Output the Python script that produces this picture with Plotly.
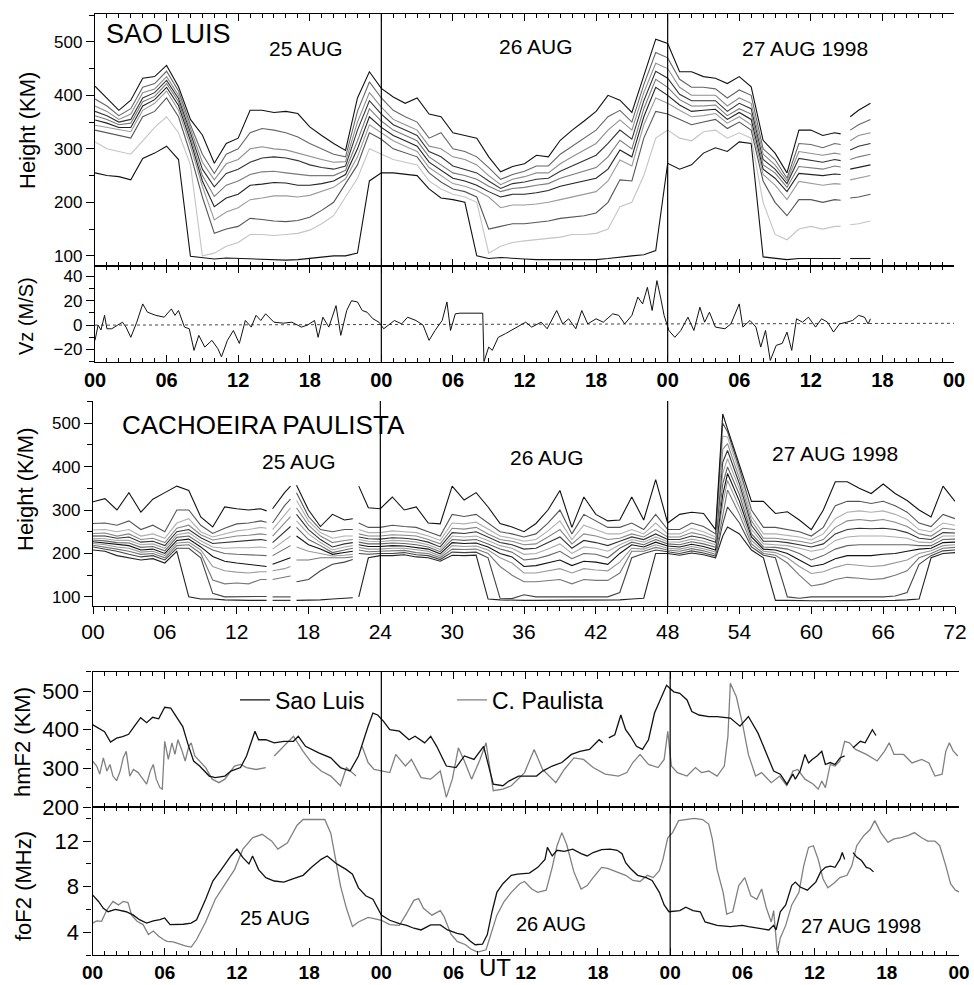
import plotly.graph_objects as go

W, H = 974, 985
FONT = "Liberation Sans, Arial, Helvetica, sans-serif"

# ---------------- Sao Luis iso-frequency heights (km) ----------------
SL_T = list(range(0, 63)) + [62.5, 62.9, 63.3, 64, 65]

SL_L9 = [417, 395, 372, 391, 432, 435, 456, 416, 355, 326,
         273, 310, 320, 372, 372, 368, 370, 366, 341, 325,
         310, 297, 395, 444, 413, 397, 385, 395, 365, 360,
         330, 325, 320, 285, 257, 267, 272, 288, 285, 316,
         335, 352, 370, 400, 391, 368, 435, 505, 497, 444,
         444, 435, 432, 422, 435, 416, 316, 292, 255, 335,
         335, 325, 330, 328, None, 360, 372, 385]
SL_L8 = [393, 380, 362, 375, 415, 422, 445, 408, 345, 290,
         254, 290, 300, 330, 338, 335, 330, 322, 310, 300,
         290, 285, 370, 425, 395, 372, 360, 350, 320, 330,
         300, 295, 285, 265, 243, 252, 258, 268, 268, 290,
         305, 320, 335, 360, 372, 350, 420, 480, 470, 430,
         415, 415, 412, 395, 410, 400, 300, 280, 245, 310,
         308, 302, 310, 308, None, 335, 345, 355]
SL_L7 = [380, 370, 355, 365, 405, 412, 435, 400, 338, 275,
         242, 272, 280, 300, 304, 300, 298, 292, 285, 280,
         275, 276, 350, 405, 378, 355, 345, 335, 305, 300,
         285, 280, 270, 250, 233, 243, 248, 255, 255, 272,
         285, 298, 310, 335, 354, 335, 405, 460, 450, 415,
         400, 400, 400, 380, 395, 385, 290, 270, 240, 295,
         292, 288, 292, 290, None, 315, 325, 330]
SL_L6 = [370, 362, 350, 355, 395, 405, 428, 394, 330, 262,
         229, 254, 262, 275, 283, 285, 283, 278, 270, 265,
         262, 268, 335, 390, 365, 345, 335, 325, 295, 285,
         268, 262, 255, 240, 226, 235, 238, 243, 245, 258,
         268, 278, 288, 310, 335, 318, 390, 445, 432, 402,
         390, 390, 390, 370, 385, 375, 280, 262, 235, 282,
         278, 275, 280, 278, None, 298, 305, 310]
SL_L5 = [362, 355, 345, 348, 388, 398, 422, 388, 322, 250,
         211, 232, 240, 252, 257, 258, 255, 252, 250, 250,
         250, 260, 315, 375, 352, 335, 325, 315, 285, 270,
         255, 250, 243, 230, 220, 226, 228, 232, 235, 245,
         252, 258, 265, 285, 316, 300, 375, 430, 415, 392,
         380, 380, 382, 362, 375, 365, 270, 255, 228, 267,
         265, 262, 268, 266, None, 280, 285, 290]
SL_L4 = [354, 348, 340, 340, 380, 392, 415, 381, 315, 240,
         192, 208, 215, 232, 234, 237, 236, 232, 232, 235,
         240, 252, 300, 360, 340, 325, 315, 305, 275, 260,
         245, 240, 232, 220, 210, 215, 215, 218, 222, 230,
         235, 240, 245, 262, 298, 285, 360, 415, 400, 382,
         370, 372, 374, 355, 368, 355, 262, 245, 220, 254,
         252, 250, 253, 252, None, 262, 265, 270]
SL_L3 = [344, 340, 335, 332, 372, 385, 408, 372, 305, 230,
         167, 182, 190, 205, 208, 212, 212, 210, 213, 220,
         228, 244, 285, 345, 330, 315, 305, 295, 265, 250,
         235, 230, 222, 210, 190, 195, 195, 197, 200, 205,
         210, 215, 220, 240, 279, 268, 345, 395, 385, 372,
         360, 362, 366, 348, 360, 345, 252, 232, 205, 239,
         235, 232, 235, 234, None, 242, 245, 250]
SL_L2 = [335, 330, 325, 320, 360, 370, 395, 360, 290, 210,
         142, 150, 155, 170, 168, 165, 164, 166, 172, 185,
         200, 235, 270, 330, 318, 300, 292, 285, 255, 238,
         225, 220, 210, 150, 155, 160, 160, 162, 165, 170,
         172, 175, 180, 200, 242, 240, 320, 370, 365, 355,
         345, 350, 355, 338, 350, 335, 240, 200, 175, 205,
         205, 200, 205, 204, None, 208, 210, 215]
SL_L1 = [313, 300, 295, 290, 315, 340, 360, 330, 270, 100,
         105, 118, 125, 140, 140, 138, 140, 142, 148, 160,
         175, 210, 245, 300, 290, 280, 275, 270, 240, 225,
         215, 210, 200, 105, 118, 125, 128, 130, 132, 135,
         140, 140, 142, 150, 192, 200, 250, 320, 335, 320,
         315, 332, 335, 320, 330, 320, 200, 140, 130, 150,
         155, 150, 155, 155, None, 158, 160, 165]
SL_L0 = [255, 250, 248, 242, 282, 292, 305, 280, 99, 96,
         94, 96, 95, 95, 93, 92, 92, 93, 95, 98,
         100, 100, 105, 240, 255, 255, 252, 250, 225, 208,
         205, 200, 100, 95, 97, 95, 94, 93, 93, 93,
         92, 92, 93, 95, 98, 100, 102, 110, 273, 262,
         270, 292, 302, 295, 313, 310, 98, 95, 93, 95,
         95, 95, 95, 95, None, 95, 95, 95]
SL_LINES = [SL_L0, SL_L1, SL_L2, SL_L3, SL_L4, SL_L5, SL_L6, SL_L7, SL_L8, SL_L9]
SL_COLORS = ["#111111", "#c4c4c4", "#555555", "#9a9a9a", "#222222",
             "#7a7a7a", "#333333", "#8e8e8e", "#666666", "#111111"]

# ---------------- Cachoeira Paulista iso-frequency heights (km) ----------------
CP_T = (list(range(0, 15)) + [14.5, 14.7, 15, 16, 16.5, 16.7, 17, 18, 19, 20, 21, 21.7, 21.95, 22.2]
        + list(range(23, 53)) + [52.6] + list(range(53, 73)))

CP_C11 = [319, 326, 300, 340, 295, 325, 340, 355, 345, 284, 261, 307, 303, 300, 303,
          298, None, 303, 340, 355, None, 357, 300, 262, 290, 277, 280, None, 355,
          305, 303, 330, 300, 307, 270, 268, 355, 323, 340,
          307, 269, 261, 250, 269, 300, 345, 260, 330, 290,
          275, 277, 330, 277, 370, 270, 290, 295, 292, 255,
          521,
          487, 405, 320, 320, 292, 296, 277, 255, 300, 365,
          365, 350, 338, 360, 338, 322, 300, 284, 355, 320]
CP_C10 = [269, 270, 265, 275, 255, 265, 250, 300, 300, 265, 246, 258, 268, 270, 275,
          272, None, 270, 310, 325, None, 340, 285, 255, 250, 255, 255, None, 270,
          260, 260, 265, 262, 260, 250, 240, 290, 285, 290,
          270, 250, 245, 238, 245, 270, 300, 245, 290, 275,
          260, 260, 270, 255, 290, 255, 255, 270, 262, 245,
          500,
          480, 395, 300, 260, 260, 255, 250, 240, 260, 310,
          320, 320, 315, 320, 310, 295, 270, 262, 290, 280]
CP_C9 = [254, 255, 250, 255, 240, 245, 235, 270, 280, 250, 238, 245, 252, 255, 260,
         258, None, 255, 290, 305, None, 322, 275, 248, 235, 240, 240, None, 255,
         248, 248, 252, 250, 248, 240, 230, 270, 268, 272,
         255, 240, 235, 228, 232, 252, 275, 232, 265, 255,
         245, 245, 255, 245, 270, 245, 245, 258, 250, 238,
         470,
         468, 385, 285, 245, 245, 242, 238, 231, 245, 280,
         295, 298, 295, 298, 290, 278, 255, 250, 270, 265]
CP_C8 = [246, 247, 240, 245, 232, 235, 225, 258, 265, 243, 231, 235, 240, 242, 245,
         243, None, 240, 270, 285, None, 305, 265, 240, 225, 230, 232, None, 245,
         240, 240, 243, 242, 240, 232, 222, 258, 256, 260,
         245, 232, 228, 220, 222, 238, 255, 222, 245, 240,
         232, 235, 245, 238, 255, 238, 238, 248, 242, 232,
         440,
         453, 372, 275, 235, 235, 232, 228, 223, 232, 260,
         275, 278, 275, 278, 272, 262, 245, 240, 258, 255]
CP_C7 = [240, 240, 235, 238, 226, 228, 218, 250, 255, 236, 223, 225, 228, 230, 232,
         230, None, 225, 250, 262, None, 290, 255, 232, 215, 222, 225, None, 238,
         234, 233, 236, 235, 232, 226, 215, 248, 246, 250,
         238, 225, 220, 210, 212, 225, 238, 212, 230, 225,
         218, 228, 238, 232, 245, 232, 232, 240, 235, 226,
         410,
         437, 360, 265, 228, 228, 225, 220, 215, 222, 245,
         255, 258, 257, 258, 255, 248, 235, 232, 248, 247]
CP_C6 = [235, 234, 230, 230, 220, 222, 212, 243, 248, 229, 215, 212, 213, 213, 215,
         213, None, 210, 230, 240, None, 275, 245, 225, 208, 215, 218, None, 232,
         228, 227, 230, 229, 226, 220, 209, 240, 238, 240,
         230, 218, 212, 198, 200, 210, 222, 200, 215, 212,
         205, 220, 232, 226, 238, 227, 226, 233, 228, 220,
         385,
         418, 348, 255, 222, 220, 218, 212, 205, 210, 230,
         238, 240, 240, 240, 238, 235, 226, 225, 240, 240]
CP_C5 = [231, 229, 225, 224, 214, 216, 206, 237, 240, 222, 208, 200, 198, 197, 196,
         195, None, 195, 210, 218, None, 260, 232, 218, 202, 208, 212, None, 226,
         222, 222, 224, 223, 220, 215, 204, 232, 230, 232,
         222, 210, 203, 185, 188, 195, 205, 188, 200, 198,
         190, 212, 226, 220, 232, 222, 220, 227, 222, 214,
         360,
         399, 335, 245, 215, 214, 210, 200, 185, 195, 210,
         218, 220, 220, 220, 220, 220, 218, 218, 232, 233]
CP_C4 = [227, 224, 220, 218, 208, 210, 200, 230, 233, 215, 193, 182, 178, 175, 172,
         170, None, 175, 185, 190, None, 240, 220, 210, 198, 202, 205, None, 220,
         216, 216, 218, 217, 214, 210, 199, 225, 223, 224,
         215, 200, 192, 170, 172, 178, 185, 172, 182, 180,
         175, 200, 220, 215, 226, 217, 215, 221, 216, 208,
         335,
         384, 320, 238, 210, 208, 200, 185, 170, 175, 188,
         195, 195, 195, 198, 200, 205, 210, 212, 225, 226]
CP_C3 = [223, 220, 215, 212, 203, 205, 195, 224, 226, 208, 170, 160, 157, 155, 158,
         158, None, 160, 165, 170, None, 215, 205, 200, 194, 196, 198, None, 214,
         210, 210, 212, 212, 208, 205, 194, 218, 216, 217,
         208, 190, 178, 155, 155, 160, 165, 155, 165, 162,
         160, 180, 212, 210, 220, 212, 210, 216, 211, 203,
         315,
         368, 305, 230, 205, 202, 190, 170, 154, 158, 168,
         175, 172, 170, 172, 178, 185, 200, 206, 218, 220]
CP_C2 = [219, 215, 210, 205, 198, 200, 190, 218, 220, 200, 139, 130, 132, 130, 140,
         140, None, 140, 145, 148, None, 185, 185, 190, 190, 190, 192, None, 208,
         204, 205, 206, 207, 202, 200, 190, 210, 209, 210,
         200, 170, 150, 135, 135, 138, 140, 130, 140, 138,
         138, 155, 205, 205, 214, 208, 205, 211, 206, 198,
         290,
         346, 290, 222, 200, 196, 178, 150, 125, 130, 140,
         145, 143, 140, 142, 150, 160, 190, 200, 212, 214]
CP_C1 = [215, 210, 205, 198, 192, 195, 185, 212, 212, 190, 108, 100, 100, 100, 101,
         101, None, 100, 100, 100, None, 135, 140, 160, 175, 180, 186, None, 200,
         198, 200, 200, 202, 197, 195, 186, 203, 202, 203,
         190, 97, 96, 105, 100, 100, 100, 100, 100, 100,
         100, 110, 190, 200, 208, 204, 200, 206, 201, 194,
         268,
         307, 270, 215, 196, 190, 100, 97, 100, 100, 100,
         100, 100, 100, 100, 102, 110, 175, 195, 206, 208]
CP_C0 = [208, 205, 195, 190, 185, 188, 178, 205, 100, 95, 95, 93, 92, 92, 92,
         92, None, 92, 92, 92, None, 92, 92, 93, 95, 96, 98, None, 100,
         190, 195, 195, 197, 192, 190, 182, 196, 195, 196,
         95, 93, 92, 92, 92, 92, 92, 92, 92, 92,
         92, 93, 95, 97, 200, 200, 196, 201, 197, 190,
         240,
         261, 245, 208, 190, 92, 92, 91, 91, 91, 91,
         91, 91, 91, 91, 92, 93, 95, 190, 200, 202]
CP_LINES = [CP_C0, CP_C1, CP_C2, CP_C3, CP_C4, CP_C5, CP_C6, CP_C7, CP_C8, CP_C9, CP_C10, CP_C11]
CP_COLORS = ["#222222", "#444444", "#777777", "#999999", "#111111", "#666666",
             "#aaaaaa", "#333333", "#888888", "#b0b0b0", "#555555", "#111111"]

# ---------------- Vertical drift Vz at Sao Luis (m/s): (UT hour, value) ----------------
VZ_POINTS = [(0, -12.5), (0.26, 0), (0.5, -4), (0.8, 8), (1.0, -3), (1.4, -3), (1.9, 0), (2.3, 2.4),
             (2.6, -1.6), (3.0, -10), (3.5, 2.4), (4.0, 17.4), (4.4, 10.6), (5.1, 8), (5.8, 6.5),
             (6.4, 13.3), (6.7, 8), (7.0, 12), (7.5, -1.6), (7.9, -3), (8.3, -20.7), (8.7, -8.4),
             (9.2, -18), (9.8, -12.5), (10.3, -19.3), (10.6, -26), (11.1, -12.5), (11.6, -4.4),
             (12.1, -15), (12.6, 3.8), (13.1, -1.6), (13.5, 8), (13.9, 3.8), (14.3, 9.3), (15.0, 2.4),
             (15.8, 1.6), (16.5, 2.4), (17.3, -1.6), (17.8, 0), (18.4, 3.8), (18.7, -10), (19.1, 6.5),
             (19.6, -1.6), (20.2, 16), (20.6, -8.4), (21.1, 12), (21.5, 20), (22.0, 19), (22.4, 12),
             (22.8, 10.6), (23.3, 5.2), (23.8, 2.4), (24.2, -3), (24.6, 0), (25.1, 3.8), (25.7, 1),
             (26.2, 6.5), (26.9, 3.8), (27.5, 0), (28.0, -12.5), (28.5, -4.4), (29.1, 3.8), (29.5, 19),
             (29.8, -4.4), (30.2, 9.3), (30.6, 9.8), (32.5, 9.8), (32.6, -30), (33.0, -18), (33.3, -20.7),
             (33.8, -10), (34.4, -7), (35.1, -3), (35.6, 0), (36.1, 2.4), (36.6, -1.6), (37.4, 2.4),
             (37.9, -3), (38.7, 12), (39.2, 1), (39.7, 5.2), (40.3, -3), (40.8, 12), (41.3, 1), (42.0, 5.2),
             (42.6, 2.4), (43.4, 9.3), (43.9, 8), (44.4, 1), (45.0, 8), (45.5, 23), (45.9, 17.4), (46.3, 31),
             (46.7, 12), (47.1, 36.5), (47.4, 23), (47.7, 8), (48.1, -4.4), (48.6, -10), (49.1, -4.4),
             (49.7, 6.5), (50.2, -4.4), (50.7, 14.7), (51.1, 2.4), (51.5, 10.6), (52.0, -1.6), (52.8, -3),
             (53.3, 1), (54.0, 17.4), (54.3, -1.6), (54.9, 3.8), (55.4, -1.6), (55.8, -18), (56.2, -4.4),
             (56.6, -29), (57.1, -16.6), (57.6, -15), (58.0, -5.7), (58.4, -20.7), (58.8, 5.2), (59.3, 2.4),
             (59.8, 6.5), (60.4, -1.6), (60.9, 5.2), (61.4, 2.4), (61.9, -5.7), (62.4, 1), (63.0, 2.4),
             (63.5, 3.8), (64.0, 8), (64.5, 6.5), (64.8, 1), (65.0, 5.2)]
VZ_REF = [(0, 0.0), (72, 1.5)]

# ---------------- hmF2 (km): (UT hour, value) ----------------
HM_SL = [(0, 413), (0.5, 404), (1, 395), (1.5, 368), (2, 378), (2.5, 382), (3, 388), (3.5, 410), (4, 431),
         (4.5, 418), (5, 432), (5.5, 428), (6, 458), (6.5, 456), (7, 432), (7.5, 408), (7.9, 366), (8.4, 319),
         (8.9, 306), (9.7, 280), (10.2, 276), (11, 280), (11.5, 293), (12.3, 302), (12.8, 332), (13.5, 396),
         (13.8, 374), (14.4, 374), (15.1, 366), (15.9, 370), (16.7, 370), (17.1, 383), (17.7, 357), (18.8, 340),
         (19.8, 327), (20.6, 302), (21.4, 293), (22.1, 332), (22.9, 409), (23.3, 443), (23.7, 438), (24.2, 421),
         (24.7, 400), (25.5, 396), (26.3, 374), (26.8, 383), (27.6, 366), (28.1, 383), (28.6, 357), (29.4, 306),
         (30.2, 302), (30.9, 332), (31.7, 323), (32.5, 357), (33.3, 259), (34.1, 255), (34.6, 267), (35.4, 280),
         (36.1, 280), (36.9, 280), (37.4, 293), (38.2, 306), (39.0, 315), (39.8, 336), (40.5, 344), (41.3, 349),
         (42.1, 374), (42.4, 366), (42.6, None), (42.9, 379), (43.4, 387), (43.9, 438), (44.3, 400), (44.7, 383),
         (45.2, 357), (45.7, 349), (46.2, 374), (46.7, 443), (47.3, 485), (47.7, 515), (48.3, 498), (48.8, 494),
         (49.4, 477), (49.8, 447), (50.4, 438), (51.2, 434), (51.9, 434), (53.0, 430), (53.8, 409), (54.5, 434),
         (55.3, 391), (56.1, 332), (56.6, 293), (57.15, 285), (57.7, 259), (58.2, 285), (58.4, 272), (58.8, 293),
         (59.2, 336), (59.5, 314), (59.8, 323), (60.2, 332), (60.6, 344), (60.9, 310), (61.3, 315), (61.7, 310),
         (62.1, 327), (62.5, 332), (62.8, None), (63.2, 353), (63.8, 370), (64.2, 366), (64.5, 383), (64.8, 400),
         (65.1, 385)]
HM_CP = [(0, 319), (0.35, 306), (0.6, 285), (0.9, 327), (1.2, 293), (1.45, 310), (1.7, 280), (2.0, 268),
         (2.3, 293), (2.55, 327), (2.8, 344), (3.1, 280), (3.4, 297), (3.8, 289), (4.1, 276), (4.5, 259),
         (4.8, 293), (5.05, 310), (5.3, 272), (5.6, 250), (5.8, 246), (6.0, 370), (6.3, 323), (6.6, 366),
         (6.85, 336), (7.1, 374), (7.4, 349), (7.7, 319), (8.0, 357), (8.2, 366), (8.5, 332), (9.4, 302),
         (9.95, 272), (10.5, 263), (11, 272), (11.8, 306), (12.3, 310), (12.8, 302), (13.6, 297), (14.4, 302),
         (14.7, None), (15.1, 332), (15.9, 357), (16.7, 383), (17.5, 344), (18.2, 315), (19.0, 293), (19.8, 280),
         (20.6, 255), (21.1, 302), (21.9, 280), (22.1, None), (22.4, 357), (22.9, 315), (23.4, 297), (24.0, 293),
         (24.7, 289), (25.2, 336), (26.0, 306), (26.5, 323), (27.3, 276), (28.1, 272), (28.9, 293), (29.4, 225),
         (29.9, 272), (30.4, 353), (30.9, 319), (31.5, 272), (32.2, 323), (32.7, 366), (33.3, 242), (34.1, 246),
         (34.8, 255), (35.9, 289), (36.7, 349), (37.4, 297), (38.5, 263), (39.2, 297), (40.0, 327), (40.8, 323),
         (41.6, 302), (42.6, 285), (43.7, 280), (44.4, 289), (44.9, 315), (45.5, 336), (46.2, 310), (47.0, 302),
         (47.5, 323), (47.8, 396), (48.1, 306), (48.6, 289), (49.4, 280), (50.1, 302), (50.6, 289), (51.2, 293),
         (51.9, 280), (52.5, 306), (52.8, 383), (53.0, 520), (53.5, 485), (54.0, 417), (54.5, 336), (55.1, 280),
         (55.6, 289), (56.4, 263), (57.1, 280), (57.7, 255), (58.2, 293), (58.6, 297), (59.2, 272), (59.9, 259),
         (60.3, 246), (60.6, 267), (60.9, 250), (61.3, 310), (61.7, 306), (62.1, 319), (62.5, 370), (62.9, 366),
         (63.4, 349), (64.3, 336), (65.2, 319), (65.8, 344), (66.2, 366), (66.6, 336), (67.4, 336), (68.1, 314),
         (68.9, 323), (69.5, 314), (70.0, 280), (70.6, 285), (70.9, 344), (71.2, 366), (71.5, 346), (71.9, 332)]

# ---------------- foF2 (MHz): (UT hour, value) ----------------
FO_SL = [(0, 7.28), (0.5, 6.7), (0.9, 6.1), (1.3, 5.8), (1.9, 6.0), (2.3, 5.9), (2.8, 5.8), (3.4, 5.5),
         (3.9, 5.1), (4.5, 4.8), (5.05, 5.0), (5.6, 5.1), (6.0, 5.25), (6.45, 4.67), (7.0, 4.67), (7.55, 4.7),
         (8.2, 4.8), (8.65, 5.1), (9.4, 6.9), (10.0, 8.5), (10.7, 9.5), (11.5, 10.7), (12.0, 11.3), (12.5, 10.55),
         (13.0, 10.0), (13.3, 10.7), (13.8, 9.5), (14.4, 8.8), (15.1, 8.5), (15.9, 8.4), (16.7, 8.7), (17.5, 9.0),
         (18.2, 9.7), (19.0, 10.4), (19.5, 10.7), (20.3, 10.0), (21.1, 9.5), (21.6, 9.1), (22.1, 7.9), (22.7, 7.2),
         (23.3, 6.9), (24.0, 5.5), (24.7, 5.05), (25.5, 4.75), (26.1, 4.6), (26.7, 4.35), (27.3, 4.2), (28.1, 4.64),
         (28.9, 4.64), (29.5, 4.2), (30.3, 3.9), (30.8, 3.8), (31.4, 3.2), (31.8, 2.9), (32.4, 2.95), (32.8, 3.77),
         (33.2, 5.8), (33.6, 7.5), (34.1, 8.26), (34.8, 9.0), (35.3, 9.1), (36.3, 9.2), (37.0, 9.7), (37.6, 10.4),
         (37.8, 11.45), (38.2, 10.7), (38.6, 11.2), (39.2, 11.1), (39.9, 11.3), (40.6, 10.9), (41.1, 10.7),
         (41.6, 11.0), (42.3, 11.25), (43.0, 11.3), (43.6, 11.2), (44.0, 10.9), (44.3, 10.1), (44.7, 9.6),
         (45.3, 9.0), (46.0, 8.8), (46.5, 8.55), (47.1, 7.5), (47.5, 6.4), (47.9, 5.8), (48.8, 5.9), (49.3, 6.2),
         (49.9, 5.9), (50.5, 5.8), (50.9, 4.9), (51.9, 4.6), (53.0, 4.5), (54.0, 4.6), (54.5, 4.5), (55.6, 4.3),
         (56.2, 4.2), (56.6, 4.6), (56.8, 4.2), (57.15, 5.8), (57.6, 6.4), (58.1, 8.1), (58.4, 8.4), (58.8, 7.97),
         (59.4, 7.7), (59.8, 8.1), (60.1, 8.4), (60.5, 9.3), (60.9, 9.7), (61.3, 9.8), (61.7, 9.7), (62.1, 10.4),
         (62.3, 11.0), (62.5, 10.4), (62.8, None), (63.2, 11.0), (63.5, 10.6), (63.9, 10.3), (64.3, 9.7),
         (64.6, 9.6), (64.9, 9.3)]
FO_CP = [(0, 4.8), (0.35, 5.0), (0.75, 4.96), (1.2, 5.97), (1.7, 6.7), (2.15, 6.4), (2.55, 6.7), (2.95, 6.6),
         (3.25, 5.5), (3.7, 4.96), (4.2, 4.67), (4.65, 3.8), (5.05, 4.1), (5.5, 3.65), (5.9, 3.36), (6.2, 3.2),
         (6.7, 3.15), (7.3, 2.93), (7.7, 2.8), (8.2, 2.7), (8.65, 3.36), (9.4, 4.9), (10.2, 6.9), (11.0, 8.2),
         (11.8, 9.5), (12.5, 11.3), (13.3, 12.3), (14.1, 12.6), (14.9, 12.0), (15.4, 11.3), (16.2, 11.85),
         (17.0, 13.4), (17.5, 13.9), (18.2, 13.9), (19.3, 13.9), (19.8, 12.7), (20.6, 8.1), (21.1, 6.1),
         (21.6, 4.5), (22.1, 4.9), (22.9, 5.3), (23.4, 5.2), (24.0, 5.05), (24.7, 4.67), (25.5, 4.6), (26.1, 5.65),
         (26.7, 6.8), (27.1, 6.95), (27.5, 6.1), (28.2, 5.5), (28.9, 5.9), (29.2, 5.4), (29.8, 3.8), (30.3, 3.2),
         (31.0, 2.9), (31.4, 2.55), (32.0, 2.26), (32.7, 2.46), (33.1, 3.77), (33.6, 5.5), (34.2, 6.7), (34.8, 7.5),
         (35.5, 8.26), (35.9, 8.46), (36.5, 7.8), (37.0, 7.5), (37.7, 7.7), (38.2, 9.7), (38.6, 11.6), (39.0, 12.75),
         (39.4, 11.7), (40.0, 9.3), (40.6, 7.8), (41.1, 8.1), (41.6, 8.8), (42.3, 9.7), (42.8, 9.6), (43.6, 9.3),
         (44.3, 9.0), (44.9, 8.55), (45.5, 8.46), (46.1, 9.0), (46.6, 8.8), (47.1, 9.4), (47.4, 10.4), (47.8, 12.3),
         (48.2, 12.75), (48.7, 13.8), (49.2, 13.9), (50.0, 14.0), (50.7, 13.9), (51.2, 13.5), (51.5, 12.2),
         (51.9, 9.5), (52.4, 7.5), (52.7, 5.6), (53.2, 5.8), (53.7, 8.1), (54.2, 8.8), (54.7, 7.2), (55.2, 6.9),
         (55.6, 7.8), (56.0, 6.1), (56.4, 4.9), (56.6, 5.9), (56.9, 2.2), (57.15, 3.5), (57.6, 4.6), (58.1, 6.4),
         (58.7, 7.5), (59.1, 9.85), (59.5, 11.45), (59.9, 11.6), (60.3, 10.4), (60.7, 8.7), (61.1, 7.9), (61.6, 8.3),
         (62.1, 8.8), (62.7, 9.0), (63.1, 9.85), (63.5, 11.6), (64.1, 12.5), (64.6, 13.0), (65.0, 13.8),
         (65.5, 12.75), (66.1, 11.9), (66.6, 12.2), (67.2, 12.3), (67.8, 12.5), (68.3, 12.75), (68.9, 12.3),
         (69.4, 12.0), (70.0, 12.0), (70.4, 11.6), (70.9, 9.85), (71.3, 8.26), (71.7, 7.7), (72.0, 7.55)]

DAY_BOUNDARIES = [24, 48]
UT_TICKS = list(range(0, 73, 6))
UT_TEXT_DAILY = ["00", "06", "12", "18"] * 3 + ["00"]
UT_TEXT_CONT = ["%02d" % v for v in UT_TICKS]
MINOR_HOURS = list(range(0, 73))


def unzip(points):
    return [p[0] for p in points], [p[1] for p in points]


fig = go.Figure()


def add_contours(t, lines, colors, xa, ya):
    for vals, col in zip(lines, colors):
        fig.add_trace(go.Scatter(x=t, y=vals, mode="lines", line=dict(color=col, width=1.1),
                                 xaxis=xa, yaxis=ya, showlegend=False, hoverinfo="skip",
                                 connectgaps=False))


add_contours(SL_T, SL_LINES, SL_COLORS, "x", "y")
add_contours(CP_T, CP_LINES, CP_COLORS, "x3", "y3")

rx, ry = unzip(VZ_REF)
fig.add_trace(go.Scatter(x=rx, y=ry, mode="lines", line=dict(color="#444444", width=1, dash="dot"),
                         xaxis="x2", yaxis="y2", showlegend=False, hoverinfo="skip"))
vx, vy = unzip(VZ_POINTS)
fig.add_trace(go.Scatter(x=vx, y=vy, mode="lines", line=dict(color="#111111", width=1),
                         xaxis="x2", yaxis="y2", showlegend=False, hoverinfo="skip"))

hx, hy = unzip(HM_CP)
fig.add_trace(go.Scatter(x=hx, y=hy, mode="lines", line=dict(color="#808080", width=1.3),
                         xaxis="x4", yaxis="y4", name="C. Paulista", showlegend=True, legendrank=2))
hx, hy = unzip(HM_SL)
fig.add_trace(go.Scatter(x=hx, y=hy, mode="lines", line=dict(color="#111111", width=1.3),
                         xaxis="x4", yaxis="y4", name="Sao Luis", showlegend=True, legendrank=1))
fx, fy = unzip(FO_CP)
fig.add_trace(go.Scatter(x=fx, y=fy, mode="lines", line=dict(color="#808080", width=1.3),
                         xaxis="x5", yaxis="y5", showlegend=False))
fx, fy = unzip(FO_SL)
fig.add_trace(go.Scatter(x=fx, y=fy, mode="lines", line=dict(color="#111111", width=1.3),
                         xaxis="x5", yaxis="y5", showlegend=False))


def px_x(p):
    return p / W


def px_y(p):
    return 1 - p / H


PANELS = {
    "sl": dict(x=(95, 954), y=(14, 266), yr=[81, 552]),
    "vz": dict(x=(95, 954), y=(266, 361.7), yr=[-30, 48.5]),
    "cp": dict(x=(93, 955), y=(401, 606), yr=[79, 551]),
    "hm": dict(x=(92.5, 959), y=(671.7, 807), yr=[200, 550]),
    "fo": dict(x=(92.5, 959), y=(807, 955), yr=[2, 15]),
}


def xdom(k):
    a, b = PANELS[k]["x"]
    return [px_x(a), px_x(b)]


def ydom(k):
    a, b = PANELS[k]["y"]
    return [px_y(b), px_y(a)]


AX = dict(showgrid=False, zeroline=False, showline=True, linecolor="black", linewidth=1.3,
          tickcolor="black", tickwidth=1.2, automargin=False)


def xaxis(k, anchor, ticks="inside", mirror="allticks", labels=None, font=None, overlay=None, side=None):
    d = dict(AX, domain=xdom(k), anchor=anchor, range=[0, 72], ticks=ticks, ticklen=7,
             tickmode="array", tickvals=UT_TICKS, mirror=mirror,
             minor=dict(tickmode="array", tickvals=MINOR_HOURS, ticks=ticks, ticklen=4,
                        tickcolor="black", tickwidth=1))
    if labels is None:
        d["showticklabels"] = False
    else:
        d["ticktext"] = labels
        d["tickfont"] = font
    if overlay:
        d["overlaying"] = overlay
        d.pop("domain")
    if side:
        d["side"] = side
    return d


def yaxis(k, anchor, dtick, mdtick, size, right=False, overlay=None):
    d = dict(AX, domain=ydom(k), anchor=anchor, range=PANELS[k]["yr"], tickmode="linear", tick0=0,
             dtick=dtick, ticklen=8 if not right else 7,
             ticks="inside" if right else "outside", mirror=False,
             minor=dict(tick0=0, dtick=mdtick, ticks="inside" if right else "outside", ticklen=5 if not right else 4,
                        tickcolor="black", tickwidth=1),
             tickfont=dict(family=FONT, size=size, color="black"))
    if right:
        d["side"] = "right"
        d["overlaying"] = overlay
        d["showticklabels"] = False
        d.pop("domain")
    return d


BOLD_TICK = dict(family=FONT, size=20, color="black", weight="bold")
BOLD_TICK_BOTTOM = dict(family=FONT, size=19, color="black", weight="bold")
CP_TICK = dict(family=FONT, size=21, color="black")

layout = dict(
    width=W, height=H, margin=dict(l=0, r=0, t=0, b=0, autoexpand=False),
    paper_bgcolor="white", plot_bgcolor="white",
    xaxis=xaxis("sl", "y"),
    yaxis=yaxis("sl", "x", 100, 50, 17),
    xaxis2=xaxis("vz", "y2", labels=UT_TEXT_DAILY, font=BOLD_TICK),
    yaxis2=yaxis("vz", "x2", 20, 10, 17),
    xaxis3=xaxis("cp", "y3", ticks="outside", mirror=False, labels=UT_TEXT_CONT, font=CP_TICK),
    yaxis3=yaxis("cp", "x3", 100, 50, 17),
    xaxis4=xaxis("hm", "y4"),
    yaxis4=yaxis("hm", "x4", 100, 50, 22),
    xaxis5=xaxis("fo", "y5", labels=UT_TEXT_DAILY, font=BOLD_TICK_BOTTOM),
    yaxis5=yaxis("fo", "x5", 4, 2, 22),
    xaxis6=xaxis("cp", "y3", mirror=False, overlay="x3", side="top"),
    yaxis6=yaxis("sl", "x", 100, 50, 17, right=True, overlay="y"),
    yaxis7=yaxis("vz", "x2", 20, 10, 17, right=True, overlay="y2"),
    yaxis8=yaxis("cp", "x3", 100, 50, 17, right=True, overlay="y3"),
    yaxis9=yaxis("hm", "x4", 100, 50, 22, right=True, overlay="y4"),
    yaxis10=yaxis("fo", "x5", 4, 2, 22, right=True, overlay="y5"),
    legend=dict(orientation="h", x=px_x(235), y=px_y(700), xanchor="left", yanchor="middle",
                font=dict(family=FONT, size=23, color="black"), bgcolor="rgba(0,0,0,0)",
                entrywidth=172, entrywidthmode="pixels", traceorder="normal"),
    showlegend=True,
)
fig.update_layout(**layout)

# day boundary lines in every panel
for xa, ya in [("x", "y"), ("x2", "y2"), ("x3", "y3"), ("x4", "y4"), ("x5", "y5")]:
    for b in DAY_BOUNDARIES:
        fig.add_shape(type="line", xref=xa, yref=ya + " domain", x0=b, x1=b, y0=0, y1=1,
                      line=dict(color="black", width=1.2))

# text labels
TEXTS = [
    ("SAO LUIS", 168, 34, 27), ("25 AUG", 306, 48, 21), ("26 AUG", 536, 47, 21), ("27 AUG 1998", 805, 48, 21),
    ("CACHOEIRA PAULISTA", 263, 425, 26), ("25 AUG", 299, 461, 21), ("26 AUG", 547, 458, 21),
    ("27 AUG 1998", 835, 453, 21),
    ("25 AUG", 275, 918, 20), ("26 AUG", 551, 924, 20), ("27 AUG 1998", 861, 926, 20),
    ("UT", 495, 967, 24),
]
for txt, xp, yp, sz in TEXTS:
    fig.add_annotation(text=txt, x=px_x(xp), y=px_y(yp), xref="paper", yref="paper", showarrow=False,
                       xanchor="center", yanchor="middle", font=dict(family=FONT, size=sz, color="black"))

YTITLES = [("Height (KM)", 27, 131, 22), ("Vz (M/S)", 26, 316, 20), ("Height (K/M)", 26, 490, 22),
           ("hmF2 (KM)", 22, 742, 22), ("foF2 (MHz)", 23, 886, 22)]
for txt, xp, yp, sz in YTITLES:
    fig.add_annotation(text=txt, x=px_x(xp), y=px_y(yp), xref="paper", yref="paper", showarrow=False,
                       textangle=-90, xanchor="center", yanchor="middle",
                       font=dict(family=FONT, size=sz, color="black"))

fig.write_html("out.html", config={"displayModeBar": False},
               post_script="document.body.style.margin='0px';document.body.style.overflow='hidden';")
